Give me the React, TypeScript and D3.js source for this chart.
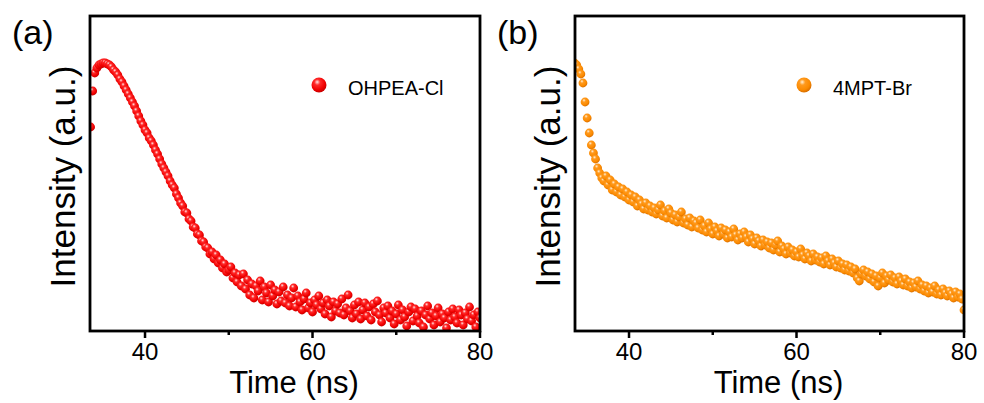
import React from "react";
import * as d3 from "d3";

// Shared time grid (ns)
const TIME: number[] = [
  33.5, 33.75,
  34, 34.25, 34.5, 34.75, 35, 35.25, 35.5, 35.75, 36, 36.25, 36.5, 36.75, 37, 37.25, 37.5, 37.75,
  38, 38.25, 38.5, 38.75, 39, 39.25, 39.5, 39.75, 40, 40.25, 40.5, 40.75, 41, 41.25, 41.5, 41.75,
  42, 42.25, 42.5, 42.75, 43, 43.25, 43.5, 43.75, 44, 44.25, 44.5, 44.75, 45, 45.25, 45.5, 45.75,
  46, 46.25, 46.5, 46.75, 47, 47.25, 47.5, 47.75, 48, 48.25, 48.5, 48.75, 49, 49.25, 49.5, 49.75,
  50, 50.25, 50.5, 50.75, 51, 51.25, 51.5, 51.75, 52, 52.25, 52.5, 52.75, 53, 53.25, 53.5, 53.75,
  54, 54.25, 54.5, 54.75, 55, 55.25, 55.5, 55.75, 56, 56.25, 56.5, 56.75, 57, 57.25, 57.5, 57.75,
  58, 58.25, 58.5, 58.75, 59, 59.25, 59.5, 59.75, 60, 60.25, 60.5, 60.75, 61, 61.25, 61.5, 61.75,
  62, 62.25, 62.5, 62.75, 63, 63.25, 63.5, 63.75, 64, 64.25, 64.5, 64.75, 65, 65.25, 65.5, 65.75,
  66, 66.25, 66.5, 66.75, 67, 67.25, 67.5, 67.75, 68, 68.25, 68.5, 68.75, 69, 69.25, 69.5, 69.75,
  70, 70.25, 70.5, 70.75, 71, 71.25, 71.5, 71.75, 72, 72.25, 72.5, 72.75, 73, 73.25, 73.5, 73.75,
  74, 74.25, 74.5, 74.75, 75, 75.25, 75.5, 75.75, 76, 76.25, 76.5, 76.75, 77, 77.25, 77.5, 77.75,
  78, 78.25, 78.5, 78.75, 79, 79.25, 79.5, 79.75, 80,
];

// (a) OHPEA-Cl intensity (a.u.)
const OHPEA_CL: number[] = [
  204, 240,
  258, 263, 266, 267, 268, 268, 267, 266, 264, 261, 259, 256, 252, 249, 245, 241,
  237, 233, 229, 225, 220, 215, 210, 206, 201, 198, 193, 190, 186, 181, 177, 172,
  167, 163, 159, 155, 150, 146, 143, 137, 133, 128, 125, 119, 118, 112, 110, 104,
  103, 97, 96, 90, 89, 84, 83, 77, 79, 72, 76, 68, 71, 63, 67, 59,
  61, 64, 53, 58, 49, 56, 45, 57, 42, 51, 36, 47, 33, 45, 40, 50,
  31, 44, 38, 29, 46, 35, 41, 27, 39, 30, 44, 28, 36, 25, 33, 43,
  24, 35, 29, 21, 32, 38, 23, 28, 19, 31, 26, 35, 22, 28, 17, 31,
  25, 14, 29, 20, 27, 18, 32, 16, 23, 36, 20, 13, 26, 17, 29, 12,
  21, 28, 15, 24, 11, 27, 19, 30, 16, 9, 23, 18, 25, 13, 20, 7,
  17, 26, 11, 21, 14, 5, 19, 24, 10, 22, 15, 8, 20, 4, 16, 25,
  12, 18, 6, 15, 23, 9, 17, 13, 3, 19, 11, 22, 14, 8, 21, 16,
  6, 18, 12, 24, 10, 16, 4, 19, 13,
];

// (b) 4MPT-Br intensity (a.u.)
const MPT_BR: number[] = [
  268, 266,
  262, 257, 248, 229, 213, 198, 186, 178, 172, 163, 158, 153, 150, 155, 146, 151,
  141, 147, 139, 144, 136, 142, 134, 139, 131, 136, 129, 134, 125, 131, 127, 122,
  128, 121, 125, 119, 123, 117, 121, 126, 115, 120, 113, 122, 118, 111, 116, 109,
  114, 119, 108, 112, 106, 113, 104, 110, 108, 103, 111, 101, 105, 99, 108, 102,
  97, 104, 100, 95, 103, 97, 101, 93, 99, 94, 102, 96, 91, 97, 93, 99,
  94, 89, 96, 92, 87, 93, 90, 85, 91, 86, 89, 83, 88, 81, 86, 90,
  79, 85, 82, 77, 84, 78, 81, 75, 79, 74, 82, 76, 72, 78, 75, 70,
  77, 71, 74, 69, 73, 67, 75, 70, 66, 72, 68, 64, 70, 63, 67, 61,
  66, 60, 64, 58, 62, 53, 50, 57, 61, 55, 59, 52, 57, 49, 55, 45,
  53, 58, 48, 55, 51, 56, 49, 53, 47, 54, 50, 46, 52, 45, 49, 43,
  48, 44, 50, 42, 46, 40, 45, 38, 43, 39, 45, 37, 41, 36, 42, 38,
  35, 40, 37, 33, 39, 34, 37, 32, 21,
];

const X_TICKS = [40, 60, 80];
const X_MINOR_TICKS = [50, 70];
const SERIES_NAMES = ["OHPEA-Cl", "4MPT-Br"];
const PANEL_LABELS = ["(a)", "(b)"];
const X_TITLE = "Time (ns)";
const Y_TITLE = "Intensity (a.u.)";

const FONT = "'Liberation Sans', Arial, Helvetica, sans-serif";

type PanelProps = {
  id: string;
  left: number;
  right: number;
  top: number;
  bottom: number;
  xMin: number;
  values: number[];
  name: string;
  label: string;
  gradient: string;
};

function Panel({ id, left, right, top, bottom, xMin, values, name, label, gradient }: PanelProps) {
  const x = d3.scaleLinear().domain([xMin, 80]).range([left, right]);
  const y = d3.scaleLinear().domain([0, 315]).range([bottom, top]);
  const pts = TIME.map((t, i) => ({ t, v: values[i] })).filter((d) => d.v !== undefined);
  const r = 4.4;
  return (
    <g>
      <defs>
        <clipPath id={`clip-${id}`}>
          <rect x={left} y={top} width={right - left} height={bottom - top} />
        </clipPath>
      </defs>
      <g clipPath={`url(#clip-${id})`}>
        {pts.map((d, i) => (
          <circle key={i} cx={x(d.t)} cy={y(d.v)} r={r} fill={`url(#${gradient})`} />
        ))}
      </g>
      <rect x={left} y={top} width={right - left} height={bottom - top} fill="none" stroke="#000" strokeWidth={2.8} />
      {X_TICKS.map((t) => (
        <g key={t}>
          <line x1={x(t)} x2={x(t)} y1={bottom} y2={bottom + 7} stroke="#000" strokeWidth={2.5} />
          <text x={x(t)} y={bottom + 29} textAnchor="middle" fontFamily={FONT} fontSize={24} fill="#000">
            {t}
          </text>
        </g>
      ))}
      {X_MINOR_TICKS.map((t) => (
        <line key={t} x1={x(t)} x2={x(t)} y1={bottom} y2={bottom + 4} stroke="#000" strokeWidth={2.5} />
      ))}
      <text x={(left + right) / 2 + 9} y={bottom + 62} textAnchor="middle" fontFamily={FONT} fontSize={31} fill="#000">
        {X_TITLE}
      </text>
      <text
        transform={`translate(${left - 15},${(top + bottom) / 2 + 3}) rotate(-90)`}
        textAnchor="middle"
        fontFamily={FONT}
        fontSize={35}
        fill="#000"
      >
        {Y_TITLE}
      </text>
      <text x={left - 78} y={top + 28} fontFamily={FONT} fontSize={34} fill="#000">
        {label}
      </text>
      <circle cx={left + 229} cy={top + 69} r={7.5} fill={`url(#${gradient})`} />
      <text x={left + 258} y={top + 79} fontFamily={FONT} fontSize={20} fill="#000">
        {name}
      </text>
    </g>
  );
}

export default function App() {
  return (
    <svg
      width={984}
      height={403}
      viewBox="0 0 984 403"
      style={{ position: "absolute", left: 0, top: 0, background: "#fff" }}
    >
      <defs>
        <radialGradient id="ballRed" cx="0.4" cy="0.35" r="0.65" fx="0.38" fy="0.3">
          <stop offset="0" stopColor="#ffe6e6" />
          <stop offset="0.3" stopColor="#ff2a2a" />
          <stop offset="0.75" stopColor="#f00000" />
          <stop offset="1" stopColor="#c80000" />
        </radialGradient>
        <radialGradient id="ballOrange" cx="0.4" cy="0.35" r="0.65" fx="0.38" fy="0.3">
          <stop offset="0" stopColor="#fff0d8" />
          <stop offset="0.3" stopColor="#ff9a1e" />
          <stop offset="0.75" stopColor="#fb8a00" />
          <stop offset="1" stopColor="#d86e00" />
        </radialGradient>
      </defs>
      <rect x={0} y={0} width={984} height={403} fill="#fff" />
      <Panel
        id="a"
        left={90}
        right={480}
        top={16}
        bottom={331}
        xMin={33.43}
        values={OHPEA_CL}
        name={SERIES_NAMES[0]}
        label={PANEL_LABELS[0]}
        gradient="ballRed"
      />
      <Panel
        id="b"
        left={575}
        right={964}
        top={16}
        bottom={331}
        xMin={33.55}
        values={MPT_BR}
        name={SERIES_NAMES[1]}
        label={PANEL_LABELS[1]}
        gradient="ballOrange"
      />
    </svg>
  );
}
